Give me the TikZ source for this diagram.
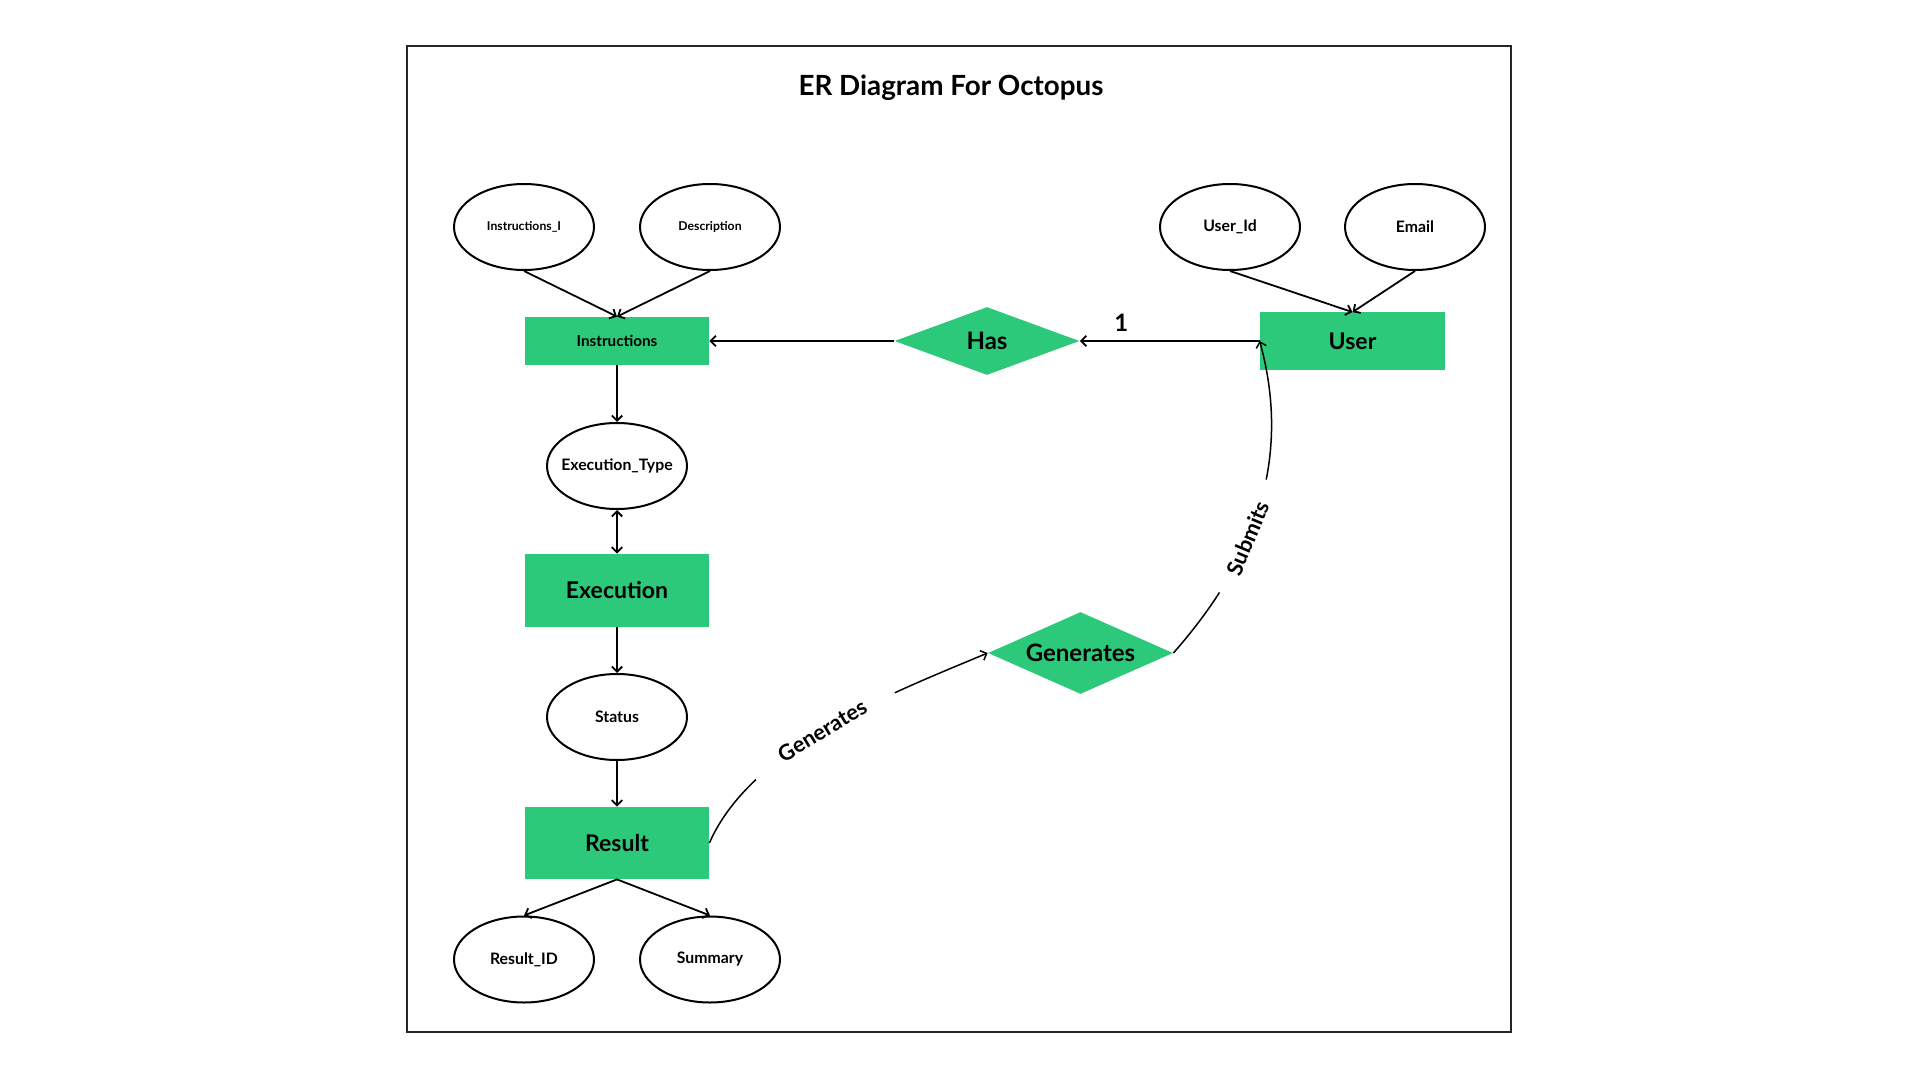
\documentclass[tikz,border=0pt]{standalone}
\usepackage{fontspec}
\setmainfont{Lato}
\usetikzlibrary{arrows.meta,shapes.geometric}
\definecolor{entgreen}{HTML}{2DC97A}
\tikzset{
  conn/.style={line width=0.9pt,-{Straight Barb[length=2.6pt,width=5.2pt]}},
  curveconn/.style={line width=0.75pt,-{Straight Barb[length=2.6pt,width=5.2pt]}},
  attr/.style={ellipse,draw,line width=1pt,minimum width=70pt,minimum height=43pt,inner sep=0pt,font=\bfseries\fontsize{7.9}{9}\selectfont},
  smallattr/.style={attr,font=\bfseries\fontsize{6.1}{7}\selectfont},
  entity/.style={rectangle,fill=entgreen,inner sep=0pt,minimum width=92pt,font=\bfseries\fontsize{11.5}{13}\selectfont},
  rel/.style={diamond,fill=entgreen,inner sep=0pt,font=\bfseries\fontsize{12}{14}\selectfont},
  edgelabel/.style={fill=white,sloped,inner ysep=2pt,font=\bfseries\fontsize{10.9}{12}\selectfont}
}
\begin{document}
\begin{tikzpicture}[x=0.5pt,y=-0.5pt]
\useasboundingbox (0,0) rectangle (1920,1080);
\draw[line width=1.2pt,black!85] (407,46) rectangle (1511,1032);
\node[font=\bfseries\fontsize{13.9}{16}\selectfont] (title) at (951,88) {ER Diagram For Octopus};

\node[smallattr] (instI) at (524,227) {Instructions\_I};
\node[smallattr] (desc) at (710,227) {Description};
\node[entity,minimum height=24pt,font=\bfseries\fontsize{7.6}{9}\selectfont] (instr) at (617,341) {Instructions};
\node[rel,aspect=2.7,minimum width=92.5pt,minimum height=34pt] (has) at (987,341) {Has};
\node[entity,minimum width=92.5pt,minimum height=28.5pt] (user) at (1352.5,341) {User};
\node[attr] (userid) at (1230,227) {User\_Id};
\node[attr] (email) at (1415,227) {Email};

\node[attr,inner xsep=-10pt] (exectype) at (617,466) {Execution\_Type};
\node[entity,minimum height=36.5pt] (exec) at (617,590.5) {Execution};
\node[attr] (status) at (617,717) {Status};
\node[entity,minimum height=36pt] (result) at (617,843) {Result};
\node[attr] (resid) at (524,959.5) {Result\_ID};
\node[attr] (summary) at (710,959.5) {Summary};

\node[rel,aspect=2.2,minimum width=92.5pt,minimum height=41pt] (gen) at (1080.5,653) {Generates};

\draw[conn] (instI.south) -- (instr.north);
\draw[conn] (desc.south) -- (instr.north);
\draw[conn] (has.west) -- (instr.east);
\draw[conn] (user.west) -- node[pos=0.77,above=1pt,font=\bfseries\fontsize{12}{14}\selectfont] (one) {1} (has.east);
\draw[conn] (userid.south) -- (user.north);
\draw[conn] (email.south) -- (user.north);
\draw[conn] (instr.south) -- (exectype.north);
\draw[line width=0.9pt,{Straight Barb[length=2.6pt,width=5.2pt]}-{Straight Barb[length=2.6pt,width=5.2pt]}] (exectype.south) -- (exec.north);
\draw[conn] (exec.south) -- (status.north);
\draw[conn] (status.south) -- (result.north);
\draw[conn] (result.south) -- (resid.north);
\draw[conn] (result.south) -- (summary.north);

\draw[curveconn] (result.east) .. controls (752,745) and (900,690) .. node[edgelabel,pos=0.47,inner xsep=16pt] (genlabel) {Generates} (gen.west);
\draw[curveconn] (gen.east) .. controls (1235,583) and (1298,480) .. node[edgelabel,pos=0.45,inner xsep=11pt] (sublabel) {Submits} (user.west);
\end{tikzpicture}
\end{document}
